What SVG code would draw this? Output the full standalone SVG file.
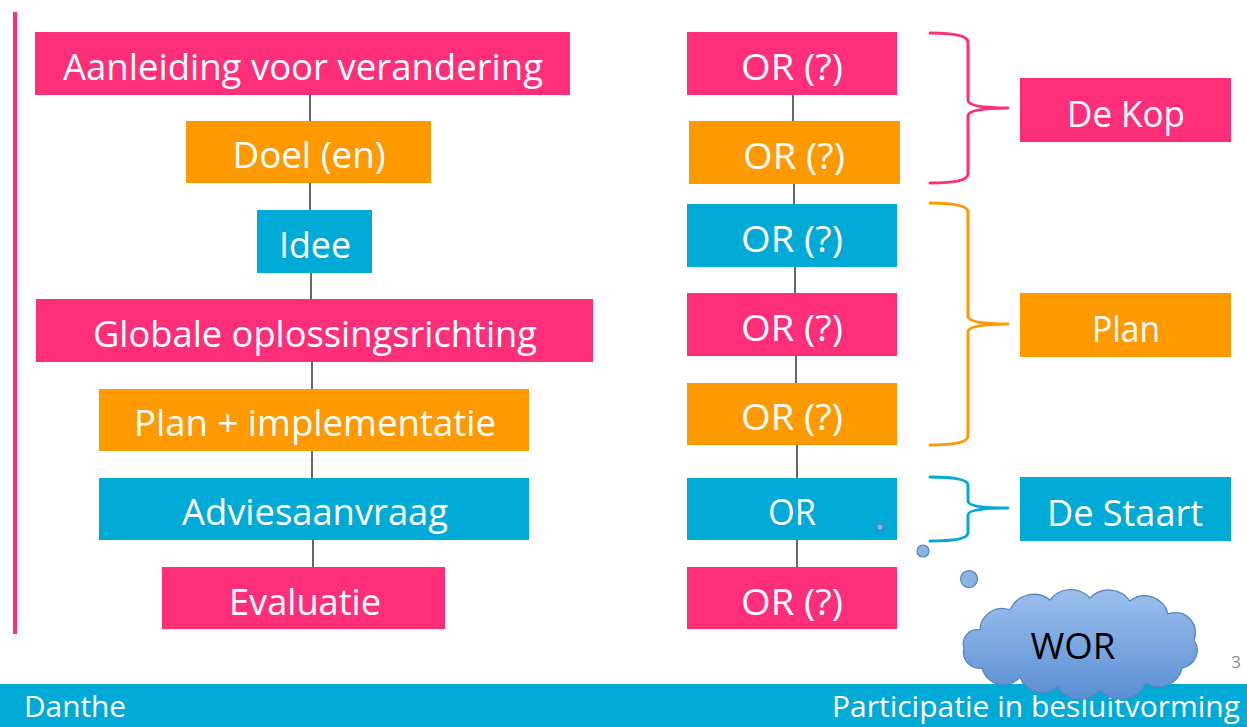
<svg xmlns="http://www.w3.org/2000/svg" width="1247" height="727" viewBox="0 0 1247 727">
<defs>
<style>
.pk{fill:#FF2E79}
.or{fill:#FF9900}
.bl{fill:#00AAD6}
.t{font-family:"Open Sans","Liberation Sans",sans-serif;font-size:37px;fill:#FFFFFF;text-anchor:middle}
.ft{font-family:"Open Sans","Liberation Sans",sans-serif;font-size:29px;fill:#FFFFFF}
.ln{stroke:#404040;stroke-width:1.6;fill:none}
.br{fill:none;stroke-width:3;stroke-linecap:round;stroke-linejoin:round}
.bub{fill:#8DB3E2;stroke:#4F81BD;stroke-width:1.2}
</style>
<linearGradient id="cg" x1="0" y1="0" x2="0" y2="1">
<stop offset="0" stop-color="#9CC0EC"/>
<stop offset="1" stop-color="#5A8FD4"/>
</linearGradient>
</defs>
<rect width="1247" height="727" fill="#FFFFFF"/>
<rect x="13" y="12" width="4" height="622" fill="#FF2E79"/>

<g id="connectors">
<line class="ln" x1="310" y1="95" x2="310" y2="121"/>
<line class="ln" x1="310" y1="183" x2="310" y2="210"/>
<line class="ln" x1="311" y1="273" x2="311" y2="299"/>
<line class="ln" x1="312" y1="362" x2="312" y2="389"/>
<line class="ln" x1="312" y1="451" x2="312" y2="478"/>
<line class="ln" x1="313" y1="540" x2="313" y2="567"/>
<line class="ln" x1="793" y1="95" x2="793" y2="121"/>
<line class="ln" x1="794" y1="184" x2="794" y2="204"/>
<line class="ln" x1="795" y1="267" x2="795" y2="293"/>
<line class="ln" x1="796" y1="356" x2="796" y2="383"/>
<line class="ln" x1="797" y1="445" x2="797" y2="478"/>
<line class="ln" x1="797" y1="540" x2="797" y2="567"/>
</g>

<g id="n-aanleiding"><rect class="pk" x="35" y="32" width="535" height="63"/><text class="t" x="303" y="80" textLength="480" lengthAdjust="spacingAndGlyphs">Aanleiding voor verandering</text></g>
<g id="n-doel"><rect class="or" x="186" y="121" width="245" height="62"/><text class="t" x="309" y="168" textLength="153" lengthAdjust="spacingAndGlyphs">Doel (en)</text></g>
<g id="n-idee"><rect class="bl" x="257" y="210" width="115" height="63"/><text class="t" x="315" y="258" textLength="72" lengthAdjust="spacingAndGlyphs">Idee</text></g>
<g id="n-globale"><rect class="pk" x="36" y="299" width="557" height="63"/><text class="t" x="315" y="347" textLength="444" lengthAdjust="spacingAndGlyphs">Globale oplossingsrichting</text></g>
<g id="n-plan-impl"><rect class="or" x="99" y="389" width="430" height="62"/><text class="t" x="315" y="436" textLength="362" lengthAdjust="spacingAndGlyphs">Plan + implementatie</text></g>
<g id="n-advies"><rect class="bl" x="99" y="478" width="430" height="62"/><text class="t" x="315" y="525" textLength="266" lengthAdjust="spacingAndGlyphs">Adviesaanvraag</text></g>
<g id="n-evaluatie"><rect class="pk" x="162" y="567" width="283" height="62"/><text class="t" x="305" y="615" textLength="152" lengthAdjust="spacingAndGlyphs">Evaluatie</text></g>

<g id="n-or1"><rect class="pk" x="687" y="32" width="210" height="63"/><text class="t" x="792" y="80" textLength="102" lengthAdjust="spacingAndGlyphs">OR (?)</text></g>
<g id="n-or2"><rect class="or" x="689" y="121" width="211" height="63"/><text class="t" x="794" y="169" textLength="102" lengthAdjust="spacingAndGlyphs">OR (?)</text></g>
<g id="n-or3"><rect class="bl" x="687" y="204" width="210" height="63"/><text class="t" x="792" y="252" textLength="102" lengthAdjust="spacingAndGlyphs">OR (?)</text></g>
<g id="n-or4"><rect class="pk" x="687" y="293" width="210" height="63"/><text class="t" x="792" y="341" textLength="102" lengthAdjust="spacingAndGlyphs">OR (?)</text></g>
<g id="n-or5"><rect class="or" x="687" y="383" width="210" height="62"/><text class="t" x="792" y="430" textLength="102" lengthAdjust="spacingAndGlyphs">OR (?)</text></g>
<g id="n-or6"><rect class="bl" x="687" y="478" width="210" height="62"/><text class="t" x="792" y="525" textLength="48" lengthAdjust="spacingAndGlyphs">OR</text></g>
<g id="n-or7"><rect class="pk" x="687" y="567" width="210" height="62"/><text class="t" x="792" y="615" textLength="102" lengthAdjust="spacingAndGlyphs">OR (?)</text></g>

<g id="brace-kop"><path class="br" stroke="#FF2E79" d="M930,33 Q968,33 968,42 L968,100 Q968,108 1008,108 Q968,108 968,116 L968,174 Q968,183 930,183"/></g>
<g id="brace-plan"><path class="br" stroke="#FF9900" d="M930,203 Q968,203 968,212 L968,316 Q968,324 1008,324 Q968,324 968,332 L968,436 Q968,445 930,445"/></g>
<g id="brace-staart"><path class="br" stroke="#00AAD6" d="M930,477 Q968,477 968,485 L968,501 Q968,508 1008,508 Q968,508 968,515 L968,533 Q968,541 930,541"/></g>

<g id="n-dekop"><rect class="pk" x="1020" y="78" width="211" height="64"/><text class="t" x="1126" y="127" textLength="118" lengthAdjust="spacingAndGlyphs">De Kop</text></g>
<g id="n-plan"><rect class="or" x="1020" y="293" width="211" height="64"/><text class="t" x="1126" y="342" textLength="68" lengthAdjust="spacingAndGlyphs">Plan</text></g>
<g id="n-destaart"><rect class="bl" x="1020" y="477" width="211" height="64"/><text class="t" x="1125" y="526" textLength="156" lengthAdjust="spacingAndGlyphs">De Staart</text></g>

<rect x="0" y="684" width="1247" height="43" fill="#00AAD6"/>
<text class="ft" x="24" y="717" textLength="102" lengthAdjust="spacingAndGlyphs">Danthe</text>
<text class="ft" x="832" y="717" textLength="408" lengthAdjust="spacingAndGlyphs">Participatie in besluitvorming</text>
<text x="1236" y="668" font-family="'Open Sans','Liberation Sans',sans-serif" font-size="17" fill="#8C8C8C" text-anchor="middle">3</text>

<g id="n-wor">
<circle class="bub" cx="880" cy="527" r="3.2"/>
<circle class="bub" cx="923" cy="551" r="6"/>
<circle class="bub" cx="969" cy="579" r="8.5"/>
<path fill="url(#cg)" stroke="#5A86C0" stroke-width="1.3" d="M980,630 A22,22 0 0 1 1010,610 A26,26 0 0 1 1050,600 A26,26 0 0 1 1090,598 A26,26 0 0 1 1130,601 A24,24 0 0 1 1168,614 A20,20 0 0 1 1194,640 A18,18 0 0 1 1182,668 A24,24 0 0 1 1146,683 A28,28 0 0 1 1100,690 A26,26 0 0 1 1058,687 A24,24 0 0 1 1020,677 A22,22 0 0 1 982,668 A16,16 0 0 1 964,648 A14,14 0 0 1 980,630 Z"/>
<text x="1073" y="659" font-family="'Open Sans','Liberation Sans',sans-serif" font-size="36" fill="#000000" text-anchor="middle" textLength="85" lengthAdjust="spacingAndGlyphs">WOR</text>
</g>
</svg>
